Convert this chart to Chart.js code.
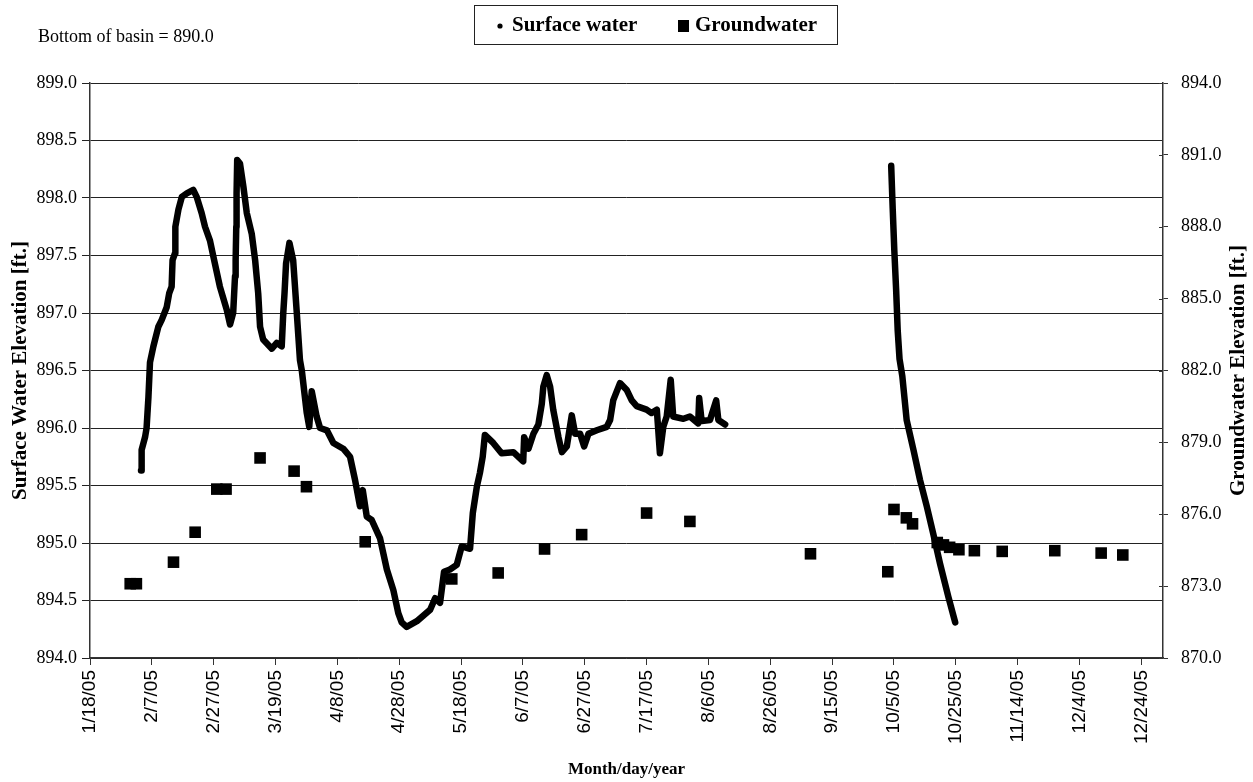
<!DOCTYPE html>
<html>
<head>
<meta charset="utf-8">
<script src="https://cdn.jsdelivr.net/npm/chart.js@4.4.1/dist/chart.umd.min.js"></script>
<style>
  html, body { margin: 0; padding: 0; background: #fff; }
  #wrap { width: 1253px; height: 782px; position: relative; }
</style>
</head>
<body>
<div id="wrap"><canvas id="c" width="1253" height="782"></canvas></div>
<script>
// Date axis: days counted from 1/18/05, one tick every 20 days, ending 12/31/05
const startYear = 2005, startMonth = 0, startDay = 18;
const tickStepDays = 20;
const lastDay = 347;

// Surface water logger record: day after 1/18/05 and elevation (ft.)
// (null marks the logger gap between August and October)
const swDay = [
  16.5, 16.7, 17.8, 18.3, 18.9, 19.4, 20.5, 22.1, 23.2, 24.8, 25.6, 26.4, 26.7, 27.5, 27.6,
  28.6, 29.7, 31.3, 33.4, 34.5, 36.1, 37.2, 38.8, 39.9, 42.0, 44.2, 45.3, 46.3, 46.9, 47.1,
  47.3, 47.4, 47.6, 48.5, 49.6, 50.7, 52.3, 53.4, 54.4, 55.0, 56.0, 58.8, 60.4, 62.0, 62.5,
  62.9, 63.4, 64.5, 65.7, 66.8, 67.9, 68.5, 70.1, 70.9, 71.7, 73.3, 74.4, 76.6, 78.7, 81.9,
  84.1, 85.7, 87.3, 88.2, 89.5, 91.1, 93.8, 96.0, 98.1, 99.7, 100.8, 102.4, 105.7, 110.0, 111.6,
  113.2, 114.5, 116.4, 118.6, 120.2, 122.9, 123.8, 125.1, 126.1, 127.0, 127.7, 130.4, 133.1, 136.9, 140.1,
  140.4, 141.8, 143.4, 145.0, 146.1, 146.6, 147.7, 148.8, 149.8, 151.5, 152.6, 154.2, 155.8, 156.9, 158.5,
  159.8, 161.2, 163.9, 167.1, 168.2, 169.2, 171.4, 173.6, 175.2, 176.8, 180.0, 181.6, 183.3, 184.3, 185.4,
  186.5, 187.8, 188.6, 191.9, 194.0, 196.7, 197.0, 197.8, 200.5, 202.5, 203.2, 205.4,
  232,
  259.1, 259.6, 260.1, 260.7, 261.2, 261.8, 262.7, 264.1, 266.3, 268.4, 270.6, 272.7, 274.9, 277.6, 279.8
];
const swElev = [
  895.63, 895.81, 895.92, 896.00, 896.27, 896.57, 896.71, 896.88, 896.94, 897.05, 897.17, 897.23, 897.46, 897.52, 897.75,
  897.90, 898.01, 898.04, 898.07, 898.01, 897.87, 897.75, 897.63, 897.49, 897.23, 897.03, 896.90, 897.00, 897.32, 897.46,
  897.75, 898.04, 898.33, 898.30, 898.10, 897.87, 897.69, 897.46, 897.17, 896.88, 896.77, 896.69, 896.74, 896.71, 897.00,
  897.17, 897.43, 897.61, 897.46, 897.03, 896.59, 896.50, 896.13, 896.01, 896.32, 896.10, 896.00, 895.98, 895.87, 895.82,
  895.75, 895.55, 895.32, 895.46, 895.23, 895.20, 895.04, 894.77, 894.59, 894.39, 894.31, 894.27, 894.32, 894.42, 894.52,
  894.48, 894.75, 894.77, 894.81, 894.97, 894.95, 895.26, 895.49, 895.61, 895.75, 895.94, 895.87, 895.78, 895.79, 895.71,
  895.92, 895.82, 895.95, 896.03, 896.21, 896.36, 896.46, 896.36, 896.16, 895.92, 895.79, 895.84, 896.11, 895.95, 895.95,
  895.84, 895.95, 895.98, 896.01, 896.07, 896.24, 896.39, 896.33, 896.24, 896.19, 896.16, 896.13, 896.16, 895.78, 896.01,
  896.10, 896.42, 896.10, 896.08, 896.10, 896.04, 896.26, 896.06, 896.07, 896.24, 896.07, 896.03,
  null,
  898.28, 897.90, 897.55, 897.20, 896.85, 896.60, 896.45, 896.07, 895.81, 895.55, 895.32, 895.08, 894.82, 894.53, 894.31
];

// Groundwater well readings
const gwDate = [
  '1/31/05', '2/2/05', '2/14/05', '2/21/05', '2/28/05', '3/3/05', '3/14/05', '3/25/05', '3/29/05', '4/17/05',
  '5/15/05', '5/30/05', '6/14/05', '6/26/05', '7/17/05', '7/31/05', '9/8/05', '10/3/05', '10/5/05', '10/9/05',
  '10/11/05', '10/19/05', '10/21/05', '10/23/05', '10/26/05', '10/31/05', '11/9/05', '11/26/05', '12/11/05', '12/18/05'
];
const gwElev = [
  873.10, 873.10, 874.00, 875.25, 877.05, 877.05, 878.35, 877.80, 877.15, 874.85,
  873.30, 873.55, 874.55, 875.15, 876.05, 875.70, 874.35, 873.60, 876.20, 875.85,
  875.60, 874.82, 874.72, 874.62, 874.52, 874.48, 874.45, 874.48, 874.38, 874.30
];

const basinNote = 'Bottom of basin = 890.0';
const swAxisTitle = 'Surface Water Elevation [ft.]';
const gwAxisTitle = 'Groundwater Elevation [ft.]';
const xAxisTitle = 'Month/day/year';

function dayOf(str) {
  const [m, d, y] = str.split('/').map(Number);
  const t = new Date(2000 + y, m - 1, d);
  const t0 = new Date(startYear, startMonth, startDay);
  return Math.round((t - t0) / 86400000);
}
function labelOf(day) {
  const t = new Date(startYear, startMonth, startDay + day);
  return (t.getMonth() + 1) + '/' + t.getDate() + '/' + String(t.getFullYear()).slice(2);
}

const swPoints = swDay.map((d, i) => ({ x: d, y: swElev[i] }));
const gwPoints = gwDate.map((s, i) => ({ x: dayOf(s), y: gwElev[i] }));

const serif = '"Liberation Serif", "Times New Roman", serif';
const sans = '"Liberation Sans", Arial, sans-serif';

// Note, legend box, right-hand axis title and inner tick marks
const decorations = {
  id: 'decorations',
  afterDraw(chart) {
    const { ctx, chartArea: a, scales } = chart;
    ctx.save();
    ctx.fillStyle = '#000';
    ctx.textBaseline = 'middle';
    ctx.textAlign = 'left';
    ctx.font = '18px ' + serif;
    ctx.fillText(basinNote, 38, 37);

    // legend
    const lx = 474.5, ly = 5.5, lw = 363, lh = 39;
    ctx.strokeStyle = '#222';
    ctx.lineWidth = 1;
    ctx.strokeRect(lx, ly, lw, lh);
    const my = ly + lh / 2 + 1;
    ctx.beginPath();
    ctx.arc(500, my, 2.6, 0, Math.PI * 2);
    ctx.fill();
    ctx.font = 'bold 21px ' + serif;
    ctx.fillText(chart.data.datasets[0].label, 512, my);
    ctx.fillRect(678, my - 6, 11, 12);
    ctx.fillText(chart.data.datasets[1].label, 695, my);

    // right axis: tick marks reaching into the plot
    const y2 = scales.y2;
    ctx.strokeStyle = '#333';
    y2.ticks.forEach(t => {
      const py = Math.round(y2.getPixelForValue(t.value)) + 0.5;
      ctx.beginPath();
      ctx.moveTo(a.right - 4, py);
      ctx.lineTo(a.right, py);
      ctx.stroke();
    });

    // right axis title, reading upward
    ctx.translate(y2.right - 14, (a.top + a.bottom) / 2);
    ctx.rotate(-Math.PI / 2);
    ctx.textAlign = 'center';
    ctx.font = 'bold 21px ' + serif;
    ctx.fillText(gwAxisTitle, 0, 0);
    ctx.restore();
  }
};

new Chart(document.getElementById('c'), {
  type: 'line',
  data: {
    datasets: [
      {
        label: 'Surface water',
        data: swPoints,
        yAxisID: 'y',
        borderColor: '#000',
        backgroundColor: '#000',
        borderWidth: 6.5,
        borderCapStyle: 'round',
        borderJoinStyle: 'round',
        pointRadius: 0,
        tension: 0,
        spanGaps: false
      },
      {
        label: 'Groundwater',
        data: gwPoints,
        yAxisID: 'y2',
        showLine: false,
        pointStyle: 'rect',
        pointRadius: 8.2,
        pointBorderWidth: 0,
        pointBackgroundColor: '#000',
        borderColor: '#000'
      }
    ]
  },
  options: {
    responsive: false,
    animation: false,
    events: [],
    layout: { padding: { top: 83, left: 0, right: 0, bottom: 0 } },
    plugins: {
      legend: { display: false },
      tooltip: { enabled: false }
    },
    scales: {
      x: {
        type: 'linear',
        position: 'bottom',
        min: 0,
        max: lastDay,
        afterFit: s => { s.height = 124; },
        border: { display: true, color: '#333', width: 1.5 },
        grid: { drawOnChartArea: false, drawTicks: true, tickLength: 7, color: '#333' },
        ticks: {
          stepSize: tickStepDays,
          includeBounds: false,
          autoSkip: false,
          minRotation: 90,
          maxRotation: 90,
          padding: 5,
          color: '#000',
          font: { family: sans, size: 19 },
          callback: v => labelOf(v)
        },
        title: {
          display: true,
          text: xAxisTitle,
          color: '#000',
          font: { family: serif, size: 17, weight: 'bold' },
          padding: { top: 0, bottom: 2 }
        }
      },
      y: {
        position: 'left',
        min: 894,
        max: 899,
        afterFit: s => { s.width = 90; },
        border: { display: true, color: '#333', width: 1.5 },
        grid: { color: '#222', lineWidth: 1, drawTicks: true, tickLength: 8 },
        ticks: {
          stepSize: 0.5,
          padding: 5,
          color: '#000',
          font: { family: serif, size: 18 },
          callback: v => Number(v).toFixed(1)
        },
        title: {
          display: true,
          text: swAxisTitle,
          color: '#000',
          font: { family: serif, size: 21, weight: 'bold' },
          padding: { top: 8, bottom: 0 }
        }
      },
      y2: {
        position: 'right',
        min: 870,
        max: 894,
        afterFit: s => { s.width = 90; },
        border: { display: true, color: '#333', width: 1.5 },
        grid: { drawOnChartArea: false, drawTicks: true, tickLength: 5, color: '#333' },
        ticks: {
          stepSize: 3,
          padding: 13,
          color: '#000',
          font: { family: serif, size: 18 },
          callback: v => Number(v).toFixed(1)
        }
      }
    }
  },
  plugins: [decorations]
});
</script>
</body>
</html>
